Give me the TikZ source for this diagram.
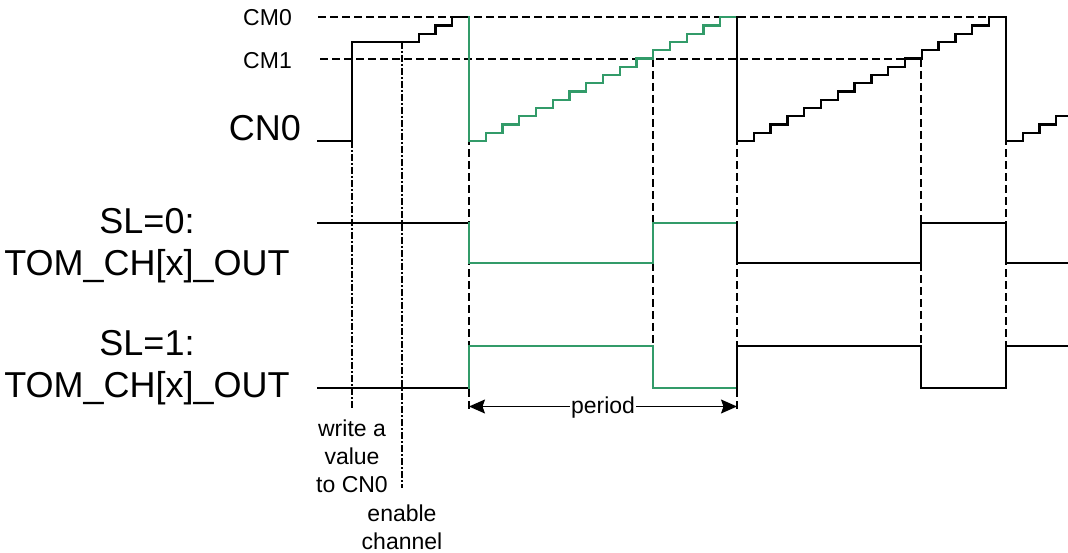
\documentclass[tikz,border=0pt]{standalone}
\usepackage{fontspec}
\setmainfont{Liberation Sans}
\usetikzlibrary{arrows.meta}
\definecolor{grn}{RGB}{50,155,105}
\begin{document}
\begin{tikzpicture}[x=1pt,y=-1pt,
  sig/.style={line width=2.3pt, line join=miter, line cap=rect},
  gsig/.style={sig, draw=grn},
  cmline/.style={line width=1.6pt, dash pattern=on 8pt off 4pt},
  vdash/.style={line width=1.5pt, dash pattern=on 8pt off 4pt},
  vdot/.style={line width=1.3pt, dash pattern=on 7pt off 2pt on 2pt off 2pt},
  small/.style={font=\fontsize{23}{28}\selectfont, inner sep=0pt, align=center},
  big/.style={font=\fontsize{36}{42}\selectfont, inner sep=0pt, align=center},
  tip/.tip={Stealth[length=16pt,width=14pt,inset=2.5pt]},
]
\useasboundingbox (0,0) rectangle (1068,553);

% reference levels
\draw[cmline] (318,17.25) -- (1006,17.25);
\draw[cmline] (320,59) -- (905,59);

% vertical markers
\draw[vdot] (352,141) -- (352,409);
\draw[vdot] (402,42) -- (402,488);
\draw[vdash] (469,17.25) -- (469,410);
\draw[vdash] (653,59) -- (653,388);
\draw[vdash] (737,17.25) -- (737,410);
\draw[vdash] (921,59) -- (921,388);
\draw[vdash] (1006,17.25) -- (1006,346);

% CN0 counter
\draw[sig] (318,141) -- (352,141) -- (352,42) -- (418.75,42)
  -- ++(0,-8.25) -- ++(16.75,0) -- ++(0,-8.25) -- ++(16.75,0) -- ++(0,-8.25) -- (469,17.25);
\draw[gsig] (469,17.25) -- (469,141)
  \foreach \k in {1,...,15}{ -- ++(16.75,0) -- ++(0,-8.25) } -- (737,17.25);
\draw[sig] (737,17.25) -- (737,141)
  \foreach \k in {1,...,15}{ -- ++(16.8,0) -- ++(0,-8.25) } -- (1006,17.25) -- (1006,141)
  \foreach \k in {1,2,3}{ -- ++(16.75,0) -- ++(0,-8.25) } -- (1068,116.25);

% SL=0 output
\draw[sig] (318,222.7) -- (469,222.7);
\draw[gsig] (469,222.7) -- (469,263.3) -- (653,263.3) -- (653,222.7) -- (737,222.7);
\draw[sig] (737,222.7) -- (737,263.3) -- (921,263.3) -- (921,222.7) -- (1006,222.7) -- (1006,263.3) -- (1068,263.3);

% SL=1 output
\draw[sig] (318,387.7) -- (469,387.7);
\draw[gsig] (469,387.7) -- (469,346) -- (653,346) -- (653,387.7) -- (737,387.7);
\draw[sig] (737,387.7) -- (737,346) -- (921,346) -- (921,387.7) -- (1006,387.7) -- (1006,346) -- (1068,346);

% labels
\node[small, anchor=east] (cm0) at (292,17.5) {CM0};
\node[small, anchor=east] (cm1) at (292,60.5) {CM1};
\node[big, anchor=east] (cn0) at (301,128) {CN0};
\node[big] (sl0) at (147,246) {SL=0:\\TOM\_CH[x]\_OUT};
\node[big] (sl1) at (147,367.5) {SL=1:\\TOM\_CH[x]\_OUT};
\node[small] (write) at (352,456) {write a\\value\\to CN0};
\node[small] (enable) at (402,527) {enable\\channel};

% period
\coordinate (pa) at (469,406.5);
\coordinate (pb) at (737,406.5);
\draw[line width=1.3pt, tip-tip] (pa) -- node[small, fill=white, inner sep=1pt, yshift=-1pt] (period) {period} (pb);
\end{tikzpicture}
\end{document}
